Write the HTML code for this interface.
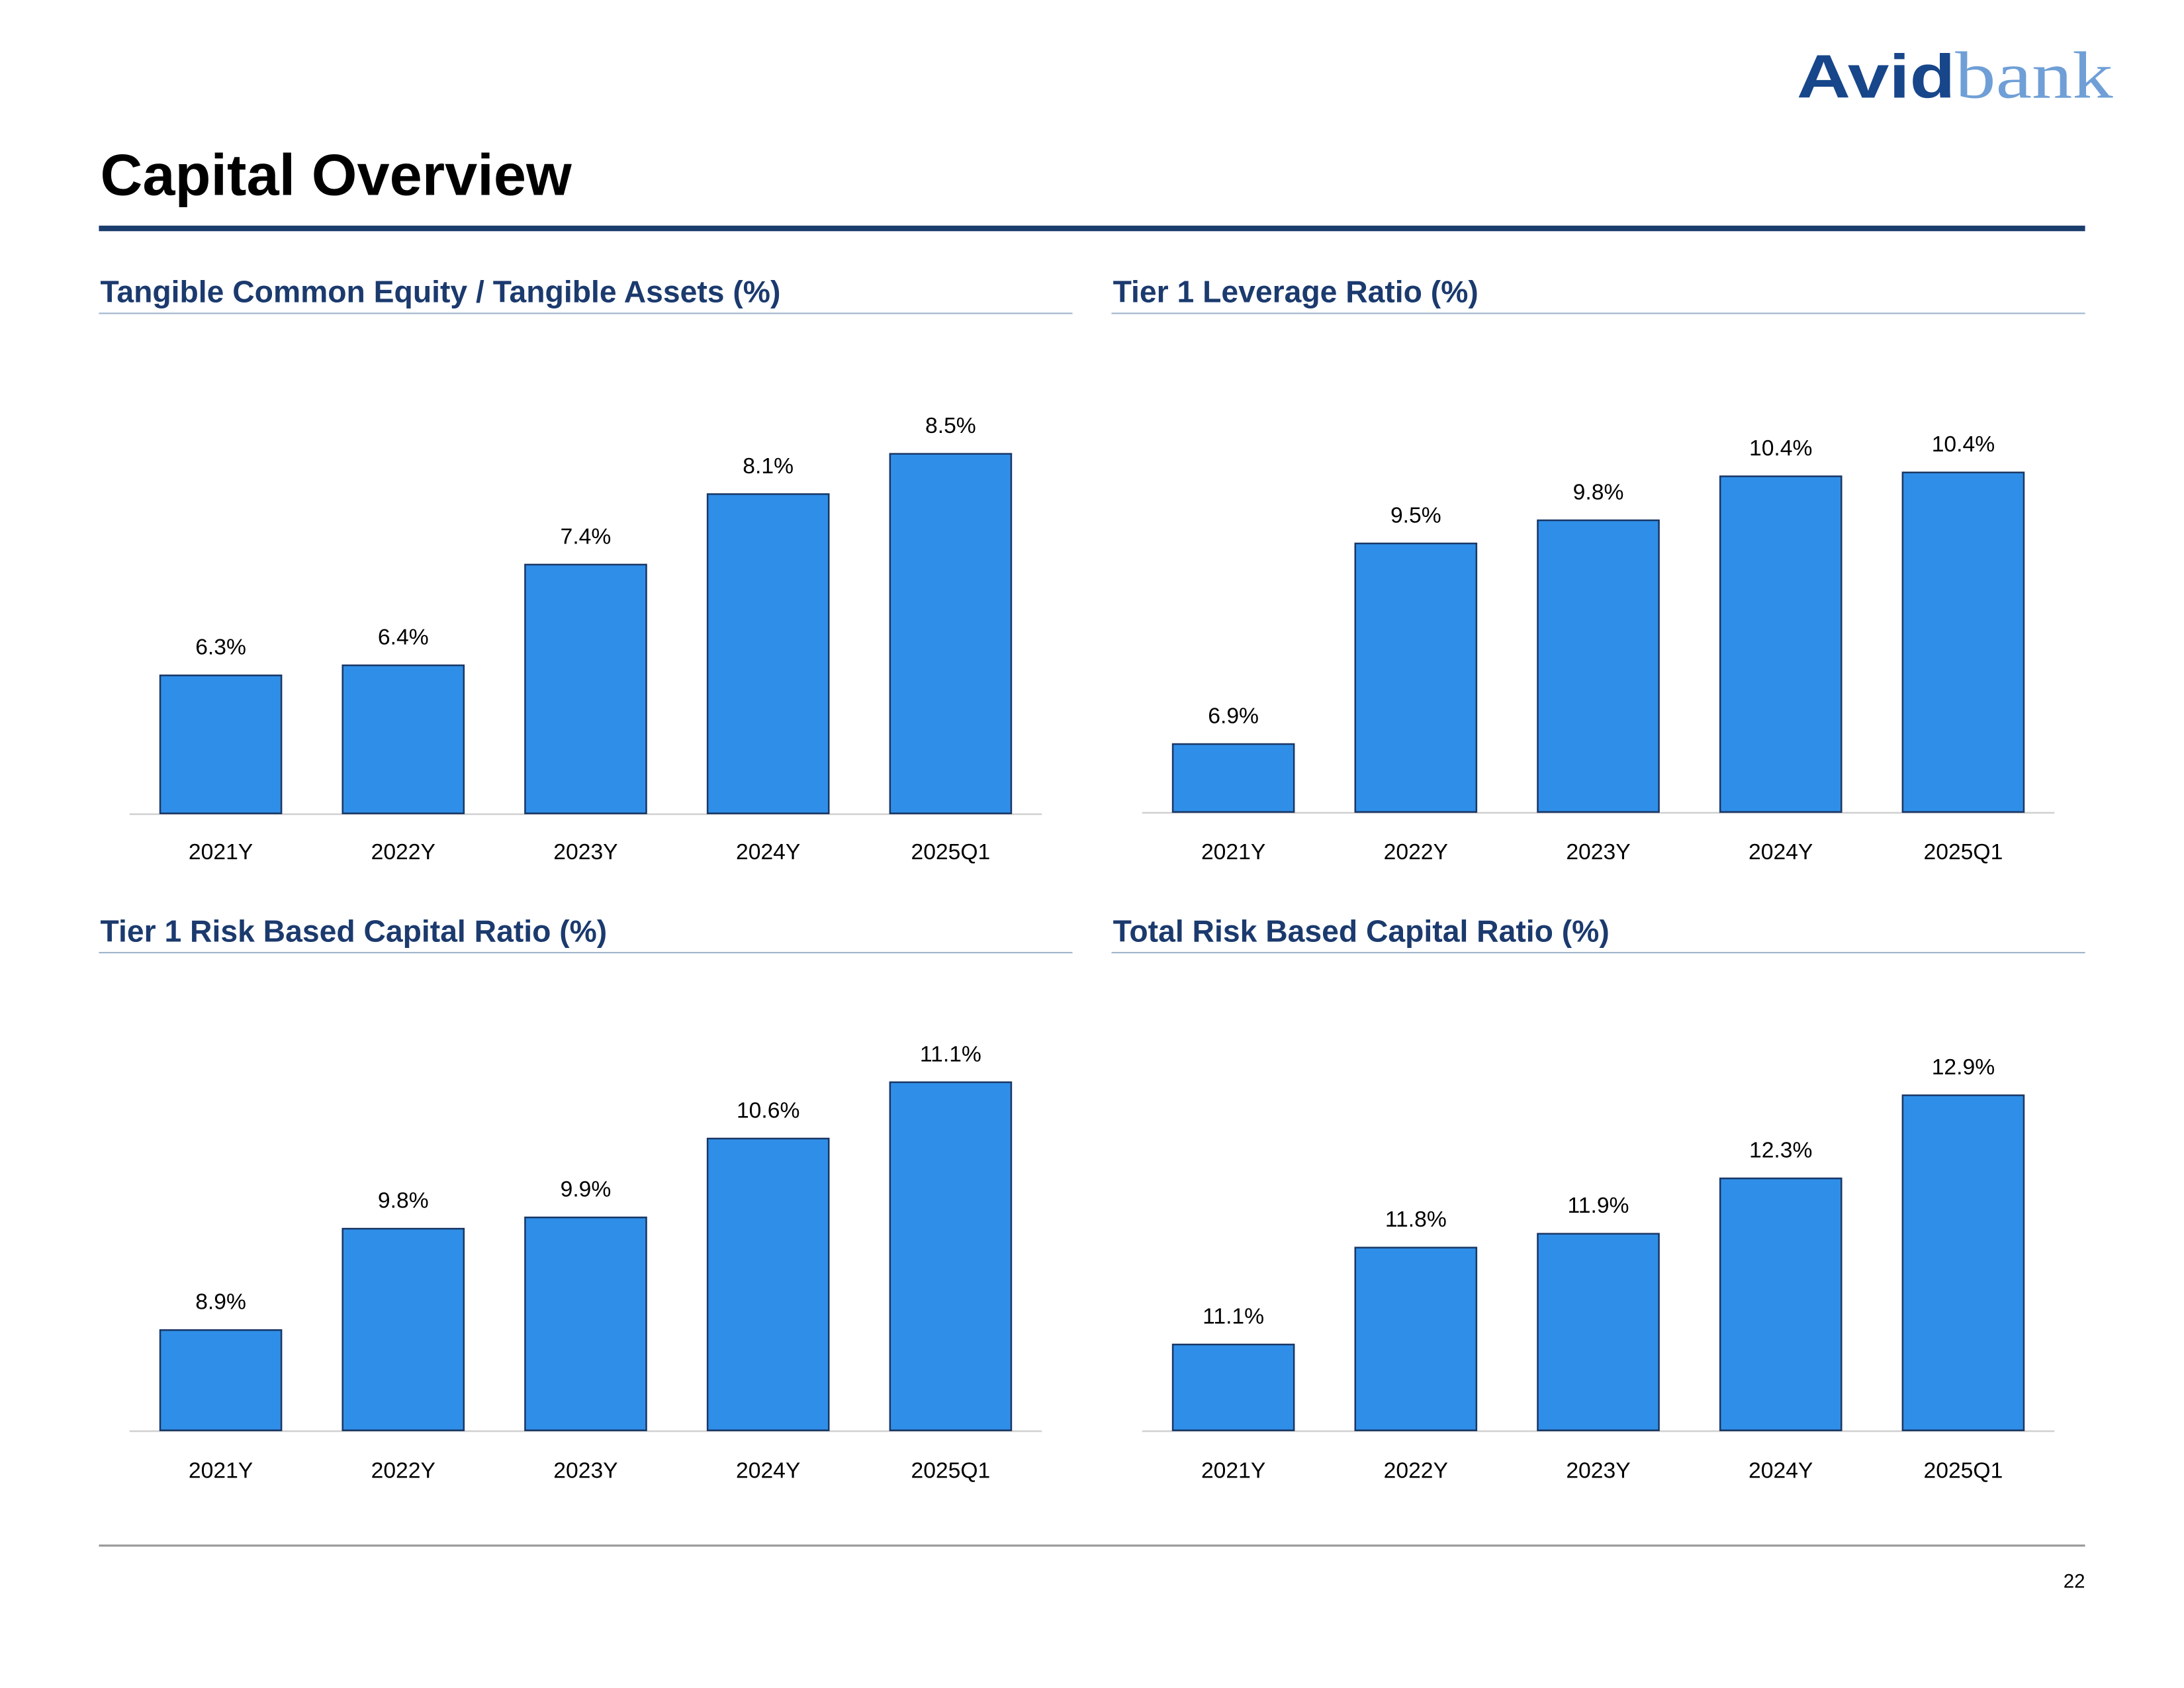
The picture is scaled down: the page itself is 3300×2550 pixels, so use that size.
<!DOCTYPE html>
<html><head><meta charset="utf-8">
<style>
html,body{margin:0;padding:0;background:#fff;}
svg{display:block;}
text{font-family:"Liberation Sans",sans-serif;}
</style></head>
<body>
<svg id="page" width="3300" height="2550" viewBox="0 0 1568 1212" preserveAspectRatio="none" xmlns="http://www.w3.org/2000/svg">
  <g>
    <text x="1290" y="70" font-size="44" textLength="227" lengthAdjust="spacingAndGlyphs"><tspan font-weight="bold" fill="#17468a" style="font-family:'Liberation Sans',sans-serif">Avid</tspan><tspan fill="#6f9fd6" font-size="48" style="font-family:'Liberation Serif',serif">bank</tspan></text>
  </g>
  <text x="72" y="140" font-size="42" font-weight="bold" fill="#000">Capital Overview</text>
  <rect x="71" y="162" width="1426" height="4" fill="#1b3d6e"/>
  <g id="charts"></g>
  <rect x="71" y="1109" width="1426" height="1.5" fill="#999"/>
  <text x="1497" y="1140" font-size="14" text-anchor="end" fill="#000">22</text>
</svg>
<script>
const categories = ["2021Y","2022Y","2023Y","2024Y","2025Q1"];
const tceValues = [6.3, 6.4, 7.4, 8.1, 8.5];
const tceLabels = ["6.3%","6.4%","7.4%","8.1%","8.5%"];
const levValues = [6.9, 9.5, 9.8, 10.37, 10.42];
const levLabels = ["6.9%","9.5%","9.8%","10.4%","10.4%"];
const t1Values = [8.9, 9.8, 9.9, 10.6, 11.1];
const t1Labels = ["8.9%","9.8%","9.9%","10.6%","11.1%"];
const totValues = [11.1, 11.8, 11.9, 12.3, 12.9];
const totLabels = ["11.1%","11.8%","11.9%","12.3%","12.9%"];

const NS = "http://www.w3.org/2000/svg";
const root = document.getElementById("charts");
function mk(tag, attrs, parent){
  const e = document.createElementNS(NS, tag);
  for (const k in attrs) e.setAttribute(k, attrs[k]);
  parent.appendChild(e);
  return e;
}
const charts = [
  {name:"tce-ratio", title:"Tangible Common Equity / Tangible Assets (%)", x0:71, titleY:217, base:584, top:289.7, min:4.93, max:9.0, vals:tceValues, labs:tceLabels, xlY:617},
  {name:"tier1-leverage", title:"Tier 1 Leverage Ratio (%)", x0:798, titleY:217, base:583, top:307.1, min:6.02, max:11.0, vals:levValues, labs:levLabels, xlY:617},
  {name:"tier1-risk-based", title:"Tier 1 Risk Based Capital Ratio (%)", x0:71, titleY:676, base:1027, top:744.7, min:8.01, max:11.5, vals:t1Values, labs:t1Labels, xlY:1061},
  {name:"total-risk-based", title:"Total Risk Based Capital Ratio (%)", x0:798, titleY:676, base:1027, top:776.5, min:10.48, max:13.0, vals:totValues, labs:totLabels, xlY:1061}
];
charts.forEach(c => {
  const g = mk("g", {}, root);
  
  
  const t = mk("text", {x:c.x0+1, y:c.titleY, "font-size":"22", "font-weight":"bold", fill:"#1b3a6e"}, g);
  t.textContent = c.title;
  
  
  const u = mk("rect", {x:c.x0, y:224.5 + (c.titleY-217), width:699, height:1, fill:"#9fb4cc"}, g);
  
  
  const y = v => c.base - (v - c.min) / (c.max - c.min) * (c.base - c.top);
  const xb = i => c.x0 + 44 + i * 131;
  const ax = mk("rect", {x:c.x0+22, y:c.base, width:655, height:1.2, fill:"#d0d0d0"}, g);
  
  
  categories.forEach((cat, i) => {
    const v = c.vals[i];
    const b = mk("rect", {x:xb(i), y:y(v), width:87, height:c.base - y(v), fill:"#2f8fe8", stroke:"#1a3766", "stroke-width":"1.2"}, g);
    
    
    const l = mk("text", {x:xb(i)+43.5, y:y(v)-15, "font-size":"16", "text-anchor":"middle", fill:"#000"}, g);
    l.textContent = c.labs[i];
    
    
    const xl = mk("text", {x:xb(i)+43.5, y:c.xlY, "font-size":"16", "text-anchor":"middle", fill:"#000"}, g);
    xl.textContent = cat;
    
    
  });
});
</script>
</body></html>
